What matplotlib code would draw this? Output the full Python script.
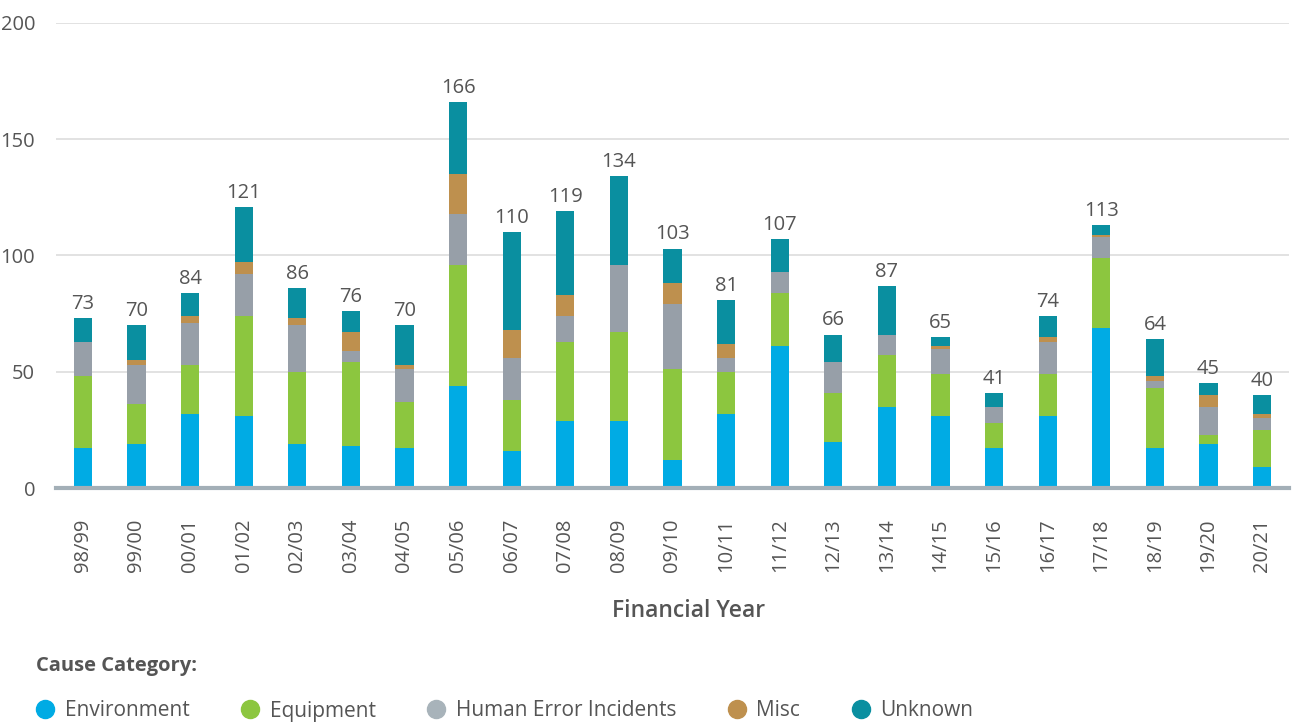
import matplotlib
matplotlib.use("Agg")
import matplotlib.pyplot as plt
from matplotlib.lines import Line2D
import numpy as np

plt.rcParams['font.family'] = ['Open Sans', 'DejaVu Sans']

years = ["98/99", "99/00", "00/01", "01/02", "02/03", "03/04", "04/05", "05/06",
         "06/07", "07/08", "08/09", "09/10", "10/11", "11/12", "12/13", "13/14",
         "14/15", "15/16", "16/17", "17/18", "18/19", "19/20", "20/21"]
environment = [17, 19, 32, 31, 19, 18, 17, 44, 16, 29, 29, 12, 32, 61, 20, 35, 31, 17, 31, 69, 17, 19, 9]
equipment   = [31, 17, 21, 43, 31, 36, 20, 52, 22, 34, 38, 39, 18, 23, 21, 22, 18, 11, 18, 30, 26, 4, 16]
human_error = [15, 17, 18, 18, 20, 5, 14, 22, 18, 11, 29, 28, 6, 9, 13, 9, 11, 7, 14, 9, 3, 12, 5]
misc        = [0, 2, 3, 5, 3, 8, 2, 17, 12, 9, 0, 9, 6, 0, 0, 0, 1, 0, 2, 1, 2, 5, 2]
unknown     = [10, 15, 10, 24, 13, 9, 17, 31, 42, 36, 38, 15, 19, 14, 12, 21, 4, 6, 9, 4, 16, 5, 8]

series_names = ["Environment", "Equipment", "Human Error Incidents", "Misc", "Unknown"]
series = [environment, equipment, human_error, misc, unknown]
colors = ["#00ABE4", "#8CC63F", "#979FA8", "#BE904E", "#0A8FA0"]
legend_colors = ["#00ABE4", "#8CC63F", "#A8B3BA", "#BE904E", "#0A8FA0"]

txt = "#555555"
fig = plt.figure(figsize=(12.92, 7.22), dpi=100)
ax = fig.add_axes([56 / 1292, 1 - 488 / 722, (1289 - 56) / 1292, (488 - 23) / 722])

x = np.arange(len(years))
bottom = np.zeros(len(years))
for name, vals, c in zip(series_names, series, colors):
    v = np.array(vals, dtype=float)
    ax.bar(x, v, width=0.34, bottom=bottom, color=c, label=name, zorder=3, linewidth=0)
    bottom += v

for xi, tot in zip(x, bottom):
    ax.annotate(f"{int(tot)}", (xi, tot), xytext=(0, 3), textcoords="offset points",
                ha="center", va="bottom", fontsize=14.5, color=txt)

ax.set_xlim(-0.5, len(years) - 0.5)
ax.set_ylim(0, 200)
ax.set_yticks([0, 50, 100, 150, 200])
ax.yaxis.grid(True, color="#dddddd", linewidth=1.2, zorder=0)
ax.set_axisbelow(True)
for s in ["top", "right", "left"]:
    ax.spines[s].set_visible(False)
ax.spines["bottom"].set_color("#a3afb7")
ax.spines["bottom"].set_linewidth(3)
ax.spines["bottom"].set_zorder(4)
ax.tick_params(axis="y", length=0, pad=15, labelsize=14.5, labelcolor=txt)
ax.tick_params(axis="x", length=0, pad=22, labelsize=14.5, labelcolor=txt)
ax.set_xticks(x)
ax.set_xticklabels(years, rotation=90, va="top")
ax.set_xlabel("Financial Year", fontsize=16.5, color=txt, fontweight="semibold", labelpad=19)
ax.xaxis.label.set_x(0.513)

fig.text(36 / 1292, 1 - 666 / 722, "Cause Category:", fontsize=14.5, fontweight="bold",
         color=txt, va="center", ha="left")

handles = [Line2D([0], [0], marker="o", linestyle="", markersize=13,
                  markerfacecolor=c, markeredgecolor=c) for c in legend_colors]
fig.legend(handles, series_names, loc="center left", bbox_to_anchor=(24 / 1292, 1 - 711 / 722),
           ncol=5, frameon=False, fontsize=15, labelcolor=txt, handletextpad=0.35,
           columnspacing=2.3, handlelength=1.2, borderaxespad=0)

fig.savefig("out.png", dpi=100, facecolor="white")
